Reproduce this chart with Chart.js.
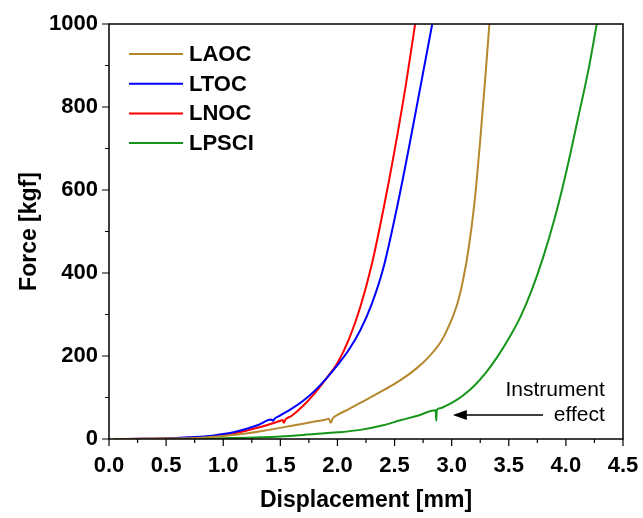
<!DOCTYPE html>
<html>
<head>
<meta charset="utf-8">
<script src="https://cdn.jsdelivr.net/npm/chart.js@4"></script>
<style>
  html, body { margin: 0; padding: 0; background: #fff; }
  #wrap { width: 643px; height: 518px; }
</style>
</head>
<body>
<div id="wrap"><canvas id="forceChart" width="643" height="518"></canvas></div>
<script>
// values
const laocX = [0.05, 0.5, 0.8, 1.0, 1.2, 1.4, 1.6, 1.8, 1.9, 1.925, 1.94, 1.96, 2.0, 2.1, 2.2, 2.3, 2.4, 2.5, 2.6, 2.7, 2.8, 2.9, 2.95, 3.0, 3.05, 3.1, 3.15, 3.2, 3.25, 3.3, 3.33];
const laocY = [0, 1, 3, 7, 13, 22, 32, 42, 47, 49, 39, 50, 58, 72, 87, 102, 117, 133, 151, 172, 198, 232, 257, 288, 326, 383, 462, 570, 720, 890, 1000];

const ltocX = [0.05, 0.3, 0.5, 0.7, 0.9, 1.0, 1.1, 1.2, 1.3, 1.42, 1.435, 1.45, 1.5, 1.6, 1.7, 1.8, 1.9, 2.0, 2.1, 2.2, 2.3, 2.4, 2.5, 2.6, 2.7, 2.83];
const ltocY = [0, 0.5, 1, 4, 8, 12, 17, 24, 33, 47, 44, 49, 57, 73, 92, 116, 145, 178, 215, 262, 325, 410, 530, 665, 810, 1000];

const lnocX = [0.05, 0.3, 0.5, 0.7, 0.9, 1.0, 1.1, 1.2, 1.3, 1.4, 1.5, 1.52, 1.53, 1.545, 1.6, 1.7, 1.8, 1.9, 2.0, 2.1, 2.2, 2.3, 2.4, 2.5, 2.6, 2.68];
const lnocY = [0, 0.5, 1, 3, 6, 10, 14, 20, 27, 35, 44, 46, 39, 47, 56, 80, 110, 145, 183, 240, 318, 420, 550, 695, 855, 1000];

const lpsciX = [0.05, 0.5, 1.0, 1.5, 1.8, 2.0, 2.2, 2.4, 2.55, 2.7, 2.86, 2.865, 2.87, 2.9, 2.95, 3.0, 3.1, 3.2, 3.3, 3.4, 3.5, 3.6, 3.7, 3.8, 3.9, 4.0, 4.1, 4.2, 4.27];
const lpsciY = [0, 0, 2, 6, 12, 16, 22, 33, 45, 56, 69, 44, 70, 74, 80, 87, 105, 129, 160, 198, 242, 293, 358, 437, 530, 640, 765, 893, 1000];

const seriesNames = ['LAOC', 'LTOC', 'LNOC', 'LPSCI'];
const seriesColors = ['#B5882E', '#0000FF', '#FF0000', '#15961A'];
const seriesX = [laocX, ltocX, lnocX, lpsciX];
const seriesY = [laocY, ltocY, lnocY, lpsciY];

const xTicks = [0, 0.5, 1.0, 1.5, 2.0, 2.5, 3.0, 3.5, 4.0, 4.5];
const yTicks = [0, 200, 400, 600, 800, 1000];

const xTitle = 'Displacement [mm]';
const yTitle = 'Force [kgf]';
const noteLines = ['Instrument', 'effect'];

const toPoints = (xs, ys) => xs.map((x, i) => ({ x: x, y: ys[i] }));

// frame, minor ticks, legend and the note
const decorPlugin = {
    id: 'decor',
    afterDraw(chart) {
        const ctx = chart.ctx;
        const a = chart.chartArea;
        const xs = chart.scales.x;
        const ys = chart.scales.y;
        ctx.save();
        ctx.strokeStyle = '#000';
        ctx.lineWidth = 1.5;
        ctx.strokeRect(a.left, a.top, a.right - a.left, a.bottom - a.top);

        ctx.lineWidth = 1.2;
        ctx.beginPath();
        for (let v = 0; v <= 4.5001; v += 0.25) {
            const px = xs.getPixelForValue(v);
            const major = Math.abs(v * 2 - Math.round(v * 2)) < 1e-6;
            ctx.moveTo(px, a.bottom);
            ctx.lineTo(px, a.bottom + (major ? 7 : 4));
        }
        for (let v = 0; v <= 1000; v += 100) {
            const py = ys.getPixelForValue(v);
            const major = v % 200 === 0;
            ctx.moveTo(a.left, py);
            ctx.lineTo(a.left - (major ? 7 : 4), py);
        }
        ctx.stroke();

        // legend
        ctx.font = 'bold 22px "Liberation Sans", Arial, sans-serif';
        ctx.textBaseline = 'middle';
        ctx.textAlign = 'left';
        chart.data.datasets.forEach((ds, i) => {
            const y = 54 + i * 29.7;
            ctx.strokeStyle = ds.borderColor;
            ctx.lineWidth = 2;
            ctx.beginPath();
            ctx.moveTo(129, y);
            ctx.lineTo(183, y);
            ctx.stroke();
            ctx.fillStyle = '#000';
            ctx.fillText(ds.label, 189, y + 1);
        });

        // instrument effect note
        ctx.font = '21px "Liberation Sans", Arial, sans-serif';
        ctx.textAlign = 'right';
        const tx = xs.getPixelForValue(4.34);
        ctx.fillText(noteLines[0], tx, 390);
        ctx.fillText(noteLines[1], tx, 415);
        const ay = ys.getPixelForValue(58);
        const tip = xs.getPixelForValue(3.01);
        const tail = xs.getPixelForValue(3.80);
        ctx.strokeStyle = '#000';
        ctx.lineWidth = 1.5;
        ctx.beginPath();
        ctx.moveTo(tail, ay);
        ctx.lineTo(tip + 8, ay);
        ctx.stroke();
        ctx.fillStyle = '#000';
        ctx.beginPath();
        ctx.moveTo(tip, ay);
        ctx.lineTo(tip + 14, ay - 5);
        ctx.lineTo(tip + 14, ay + 5);
        ctx.closePath();
        ctx.fill();
        ctx.restore();
    }
};

window.initializeChart = () => {
    const ctx = document.getElementById('forceChart');
    if (!ctx) return;

    new Chart(ctx, {
        type: 'line',
        data: {
            datasets: seriesNames.map((name, i) => ({
                label: name,
                data: toPoints(seriesX[i], seriesY[i]),
                borderColor: seriesColors[i],
                backgroundColor: seriesColors[i],
                borderWidth: 2,
                pointRadius: 0,
                cubicInterpolationMode: 'monotone',
                fill: false
            }))
        },
        options: {
            responsive: false,
            animation: false,
            layout: { padding: { top: 24, right: 20, left: 12, bottom: 0 } },
            plugins: {
                legend: { display: false },
                tooltip: { enabled: false }
            },
            scales: {
                x: {
                    type: 'linear',
                    min: 0,
                    max: 4.5,
                    afterFit: (s) => { s.height = 79; s.paddingLeft = 0; s.paddingRight = 0; },
                    afterBuildTicks: (s) => { s.ticks = xTicks.map(v => ({ value: v })); },
                    grid: { display: false, drawTicks: false },
                    border: { display: false },
                    ticks: {
                        color: '#000',
                        padding: 14,
                        font: { family: '"Liberation Sans", Arial, sans-serif', size: 22, weight: 'bold' },
                        callback: (v) => v.toFixed(1)
                    },
                    title: {
                        display: true,
                        text: xTitle,
                        color: '#000',
                        padding: { top: 10 },
                        font: { family: '"Liberation Sans", Arial, sans-serif', size: 23, weight: 'bold' }
                    }
                },
                y: {
                    type: 'linear',
                    min: 0,
                    max: 1000,
                    afterFit: (s) => { s.width = 97; s.paddingTop = 0; s.paddingBottom = 0; },
                    afterBuildTicks: (s) => { s.ticks = yTicks.map(v => ({ value: v })); },
                    grid: { display: false, drawTicks: false },
                    border: { display: false },
                    ticks: {
                        color: '#000',
                        padding: 11,
                        font: { family: '"Liberation Sans", Arial, sans-serif', size: 22, weight: 'bold' },
                        callback: (v) => String(v)
                    },
                    title: {
                        display: true,
                        text: yTitle,
                        color: '#000',
                        padding: { bottom: 4 },
                        font: { family: '"Liberation Sans", Arial, sans-serif', size: 23, weight: 'bold' }
                    }
                }
            }
        },
        plugins: [decorPlugin]
    });
};

document.addEventListener('DOMContentLoaded', initializeChart);
</script>
</body>
</html>
